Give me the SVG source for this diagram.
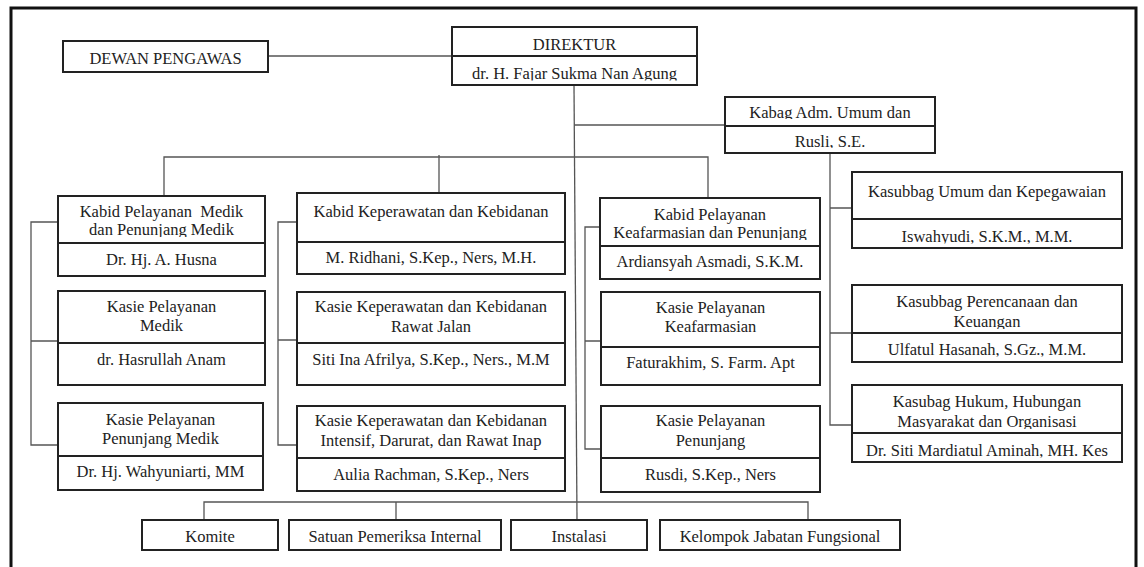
<svg xmlns="http://www.w3.org/2000/svg" width="1144" height="567" viewBox="0 0 1144 567">
<style>
.frame{fill:none;stroke:#111;stroke-width:3}
.box{fill:#fff;stroke:#222;stroke-width:2}
.dv{stroke:#222;stroke-width:2}
.c{fill:none;stroke:#555;stroke-width:1.3}
text{font-family:'Liberation Serif','DejaVu Serif',serif;font-size:16.5px;fill:#222;text-anchor:middle}
</style>
<defs>
<clipPath id="cp1"><rect x="452" y="56" width="245" height="24.5"/></clipPath>
<clipPath id="cp2"><rect x="725" y="97" width="210" height="22"/></clipPath>
<clipPath id="cp3"><rect x="725" y="126" width="210" height="22"/></clipPath>
<clipPath id="cp4"><rect x="852" y="219" width="270" height="24.5"/></clipPath>
<clipPath id="cp5"><rect x="852" y="285" width="270" height="44"/></clipPath>
<clipPath id="cp6"><rect x="852" y="333" width="270" height="23.5"/></clipPath>
<clipPath id="cp7"><rect x="852" y="385" width="270" height="44"/></clipPath>
<clipPath id="cp8"><rect x="852" y="433" width="270" height="24.5"/></clipPath>
<clipPath id="cp9"><rect x="58" y="196" width="207" height="41"/></clipPath>
<clipPath id="cp10"><rect x="600" y="198" width="220" height="42"/></clipPath>
</defs>
<path class="frame" d="M11,570 V8 H1136 V570"/>
<g id="connectors">
<line class="c" x1="268" y1="56" x2="452" y2="56"/>
<line class="c" x1="574" y1="85" x2="577" y2="520"/>
<line class="c" x1="574.3" y1="125" x2="725" y2="125"/>
<path class="c" d="M830,153 V425 H852 M830,208 H852 M830,333 H852"/>
<path class="c" d="M164,196 V157 H708 V198 M439,155 V193"/>
<path class="c" d="M58,222 H31 V445 H58 M31,341 H58"/>
<path class="c" d="M297,222 H278 V445 H297 M278,340 H297"/>
<path class="c" d="M600,227 H585 V449 H601 M585,341 H601"/>
<path class="c" d="M204,520 V502 H808 V520 M396,502 V520"/>
</g>
<g id="dewan-pengawas">
<rect class="box" x="63" y="41" width="205" height="31"/>
<text x="165.5" y="64">DEWAN PENGAWAS</text>
</g>
<g id="direktur">
<rect class="box" x="452" y="27" width="245" height="58"/>
<line class="dv" x1="452" y1="56" x2="697" y2="56"/>
<text x="574.5" y="50">DIREKTUR</text>
<text x="574.5" y="79" clip-path="url(#cp1)">dr. H. Fajar Sukma Nan Agung</text>
</g>
<g id="kabag-adm">
<rect class="box" x="725" y="97" width="210" height="56"/>
<line class="dv" x1="725" y1="126" x2="935" y2="126"/>
<text x="830" y="118" clip-path="url(#cp2)">Kabag Adm. Umum dan</text>
<text x="830" y="147" clip-path="url(#cp3)">Rusli, S.E.</text>
</g>
<g id="kasubbag-umum">
<rect class="box" x="852" y="172" width="270" height="76"/>
<line class="dv" x1="852" y1="219" x2="1122" y2="219"/>
<text x="987" y="197">Kasubbag Umum dan Kepegawaian</text>
<text x="987" y="242" clip-path="url(#cp4)">Iswahyudi, S.K.M., M.M.</text>
</g>
<g id="kasubbag-perencanaan">
<rect class="box" x="852" y="285" width="270" height="77"/>
<line class="dv" x1="852" y1="333" x2="1122" y2="333"/>
<text x="987" y="307">Kasubbag Perencanaan dan</text>
<text x="987" y="327" clip-path="url(#cp5)">Keuangan</text>
<text x="987" y="355" clip-path="url(#cp6)">Ulfatul Hasanah, S.Gz., M.M.</text>
</g>
<g id="kasubag-hukum">
<rect class="box" x="852" y="385" width="270" height="77"/>
<line class="dv" x1="852" y1="433" x2="1122" y2="433"/>
<text x="987" y="407">Kasubag Hukum, Hubungan</text>
<text x="987" y="427" clip-path="url(#cp7)">Masyarakat dan Organisasi</text>
<text x="987" y="456" clip-path="url(#cp8)">Dr. Siti Mardiatul Aminah, MH. Kes</text>
</g>
<g id="kabid-medik">
<rect class="box" x="58" y="196" width="207" height="80"/>
<line class="dv" x1="58" y1="243" x2="265" y2="243"/>
<text x="161.5" y="217" xml:space="preserve">Kabid Pelayanan  Medik</text>
<text x="161.5" y="235" clip-path="url(#cp9)">dan Penunjang Medik</text>
<text x="161.5" y="265">Dr. Hj. A. Husna</text>
</g>
<g id="kasie-medik">
<rect class="box" x="58" y="291" width="207" height="94"/>
<line class="dv" x1="58" y1="343" x2="265" y2="343"/>
<text x="161.5" y="312">Kasie Pelayanan</text>
<text x="161.5" y="331">Medik</text>
<text x="161.5" y="365">dr. Hasrullah Anam</text>
</g>
<g id="kasie-penunjang-medik">
<rect class="box" x="58" y="403" width="205" height="87"/>
<line class="dv" x1="58" y1="456" x2="263" y2="456"/>
<text x="160.5" y="425">Kasie Pelayanan</text>
<text x="160.5" y="444">Penunjang Medik</text>
<text x="160.5" y="477">Dr. Hj. Wahyuniarti, MM</text>
</g>
<g id="kabid-keperawatan">
<rect class="box" x="297" y="193" width="268" height="81"/>
<line class="dv" x1="297" y1="242" x2="565" y2="242"/>
<text x="431" y="217">Kabid Keperawatan dan Kebidanan</text>
<text x="431" y="263">M. Ridhani, S.Kep., Ners, M.H.</text>
</g>
<g id="kasie-rawat-jalan">
<rect class="box" x="297" y="292" width="268" height="93"/>
<line class="dv" x1="297" y1="343" x2="565" y2="343"/>
<text x="431" y="312">Kasie Keperawatan dan Kebidanan</text>
<text x="431" y="332">Rawat Jalan</text>
<text x="431" y="365">Siti Ina Afrilya, S.Kep., Ners., M.M</text>
</g>
<g id="kasie-intensif">
<rect class="box" x="297" y="406" width="268" height="85"/>
<line class="dv" x1="297" y1="458" x2="565" y2="458"/>
<text x="431" y="426">Kasie Keperawatan dan Kebidanan</text>
<text x="431" y="446">Intensif, Darurat, dan Rawat Inap</text>
<text x="431" y="480">Aulia Rachman, S.Kep., Ners</text>
</g>
<g id="kabid-keafarmasian">
<rect class="box" x="600" y="198" width="220" height="81"/>
<line class="dv" x1="600" y1="246" x2="820" y2="246"/>
<text x="710" y="220">Kabid Pelayanan</text>
<text x="710" y="238" clip-path="url(#cp10)">Keafarmasian dan Penunjang</text>
<text x="710" y="267">Ardiansyah Asmadi, S.K.M.</text>
</g>
<g id="kasie-keafarmasian">
<rect class="box" x="601" y="292" width="219" height="93"/>
<line class="dv" x1="601" y1="347" x2="820" y2="347"/>
<text x="710.5" y="313">Kasie Pelayanan</text>
<text x="710.5" y="332">Keafarmasian</text>
<text x="710.5" y="368">Faturakhim, S. Farm. Apt</text>
</g>
<g id="kasie-penunjang">
<rect class="box" x="601" y="406" width="219" height="86"/>
<line class="dv" x1="601" y1="458" x2="820" y2="458"/>
<text x="710.5" y="426">Kasie Pelayanan</text>
<text x="710.5" y="446">Penunjang</text>
<text x="710.5" y="480">Rusdi, S.Kep., Ners</text>
</g>
<g id="komite">
<rect class="box" x="142" y="520" width="136" height="30"/>
<text x="210" y="542">Komite</text>
</g>
<g id="satuan-pemeriksa-internal">
<rect class="box" x="289" y="520" width="212" height="30"/>
<text x="395" y="542">Satuan Pemeriksa Internal</text>
</g>
<g id="instalasi">
<rect class="box" x="511" y="520" width="136" height="30"/>
<text x="579" y="542">Instalasi</text>
</g>
<g id="kelompok-jabatan-fungsional">
<rect class="box" x="660" y="520" width="240" height="30"/>
<text x="780" y="542">Kelompok Jabatan Fungsional</text>
</g>
</svg>
